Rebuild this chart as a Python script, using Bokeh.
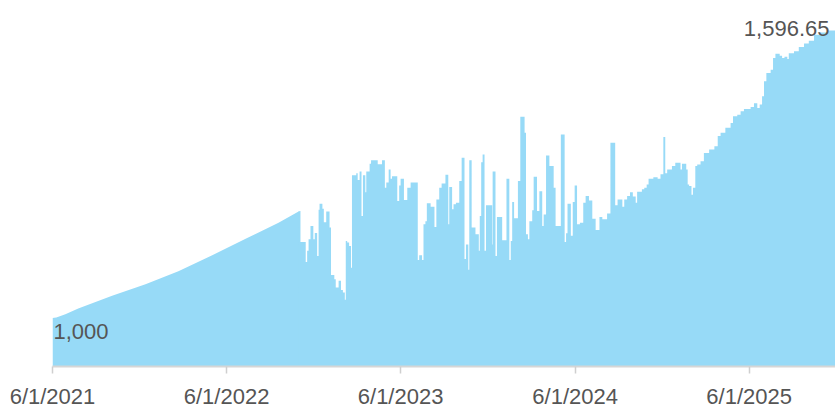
import pandas as pd
from bokeh.plotting import figure
from bokeh.models import Range1d, FixedTicker, CustomJSTickFormatter
from bokeh.core.properties import value
from bokeh.embed import file_html
from bokeh.resources import INLINE

# ---- data ----
smooth_dates = ["2021-06-01", "2021-06-09", "2021-06-28", "2021-07-25", "2021-10-04",
                "2021-12-13", "2022-02-20", "2022-05-02", "2022-07-11", "2022-09-18",
                "2022-10-30", "2022-11-01"]
smooth_values = [1000, 1001, 1008, 1020, 1046, 1070, 1097, 1130, 1164, 1197, 1220, 1221]

step_dates = [
    "2022-10-30", "2022-11-01", "2022-11-03", "2022-11-14", "2022-11-17", "2022-11-20", "2022-11-24",
    "2022-11-30", "2022-12-03", "2022-12-08", "2022-12-11", "2022-12-13", "2022-12-19",
    "2022-12-22", "2022-12-27", "2023-01-03", "2023-01-06", "2023-01-13", "2023-01-16",
    "2023-01-22", "2023-01-27", "2023-01-31", "2023-02-04", "2023-02-06", "2023-02-09",
    "2023-02-13", "2023-02-17", "2023-02-19", "2023-02-28", "2023-03-03", "2023-03-07",
    "2023-03-11", "2023-03-14", "2023-03-19", "2023-03-21", "2023-03-28", "2023-03-31",
    "2023-04-14", "2023-04-23", "2023-04-29", "2023-05-02", "2023-05-07", "2023-05-11",
    "2023-05-14", "2023-05-25", "2023-05-29", "2023-06-01", "2023-06-08", "2023-06-15",
    "2023-06-22", "2023-07-07", "2023-07-10", "2023-07-16", "2023-07-19", "2023-07-23",
    "2023-07-26", "2023-08-03", "2023-08-11", "2023-08-15", "2023-08-21", "2023-08-26",
    "2023-09-03", "2023-09-09", "2023-09-11", "2023-09-17", "2023-09-20", "2023-09-25",
    "2023-10-02", "2023-10-07", "2023-10-13", "2023-10-16", "2023-10-21", "2023-10-23",
    "2023-10-28", "2023-11-05", "2023-11-12", "2023-11-14", "2023-11-17", "2023-11-20",
    "2023-11-24", "2023-11-27", "2023-12-10", "2023-12-11", "2023-12-17", "2023-12-20",
    "2023-12-31", "2024-01-09", "2024-01-15", "2024-01-18", "2024-01-21", "2024-01-25",
    "2024-02-02", "2024-02-07", "2024-02-16", "2024-02-19", "2024-02-23", "2024-02-26",
    "2024-03-03", "2024-03-06", "2024-03-13", "2024-03-18", "2024-03-24", "2024-03-27",
    "2024-04-01", "2024-04-08", "2024-04-17", "2024-04-21", "2024-05-02", "2024-05-10",
    "2024-05-13", "2024-05-16", "2024-05-23", "2024-05-27", "2024-05-31", "2024-06-05",
    "2024-06-11", "2024-06-18", "2024-06-23", "2024-06-30", "2024-07-07", "2024-07-14",
    "2024-07-22", "2024-07-28", "2024-08-07", "2024-08-14", "2024-08-24", "2024-08-29",
    "2024-09-08", "2024-09-12", "2024-09-18", "2024-09-24", "2024-09-30", "2024-10-06",
    "2024-10-09", "2024-10-19", "2024-10-24", "2024-10-29", "2024-11-02", "2024-11-12",
    "2024-11-21", "2024-11-27", "2024-12-03", "2024-12-07", "2024-12-11", "2024-12-21",
    "2024-12-28", "2025-01-08", "2025-01-11", "2025-01-20", "2025-01-23", "2025-01-26",
    "2025-01-31", "2025-02-03", "2025-02-08", "2025-02-12", "2025-02-19", "2025-02-26",
    "2025-03-09", "2025-03-20", "2025-03-27", "2025-04-02", "2025-04-12", "2025-04-23",
    "2025-04-28", "2025-05-07", "2025-05-14", "2025-05-21", "2025-06-04", "2025-06-11",
    "2025-06-18", "2025-06-23", "2025-06-28", "2025-07-02", "2025-07-07", "2025-07-16",
    "2025-07-21", "2025-07-26", "2025-08-04", "2025-08-09", "2025-08-14", "2025-08-20",
    "2025-08-23", "2025-09-03", "2025-09-13", "2025-09-24", "2025-10-04", "2025-10-15",
    "2025-10-27", "2025-11-12", "2025-11-29"]
step_values = [
    1220, 1221, 1157, 1116, 1139, 1163, 1190,
    1163, 1176, 1128, 1224, 1236, 1226,
    1198, 1220, 1187, 1089, 1080, 1063,
    1077, 1058, 1053, 1038, 1159, 1156,
    1149, 1104, 1295, 1299, 1285, 1303,
    1211, 1295, 1260, 1303, 1319, 1326,
    1318, 1326, 1269, 1280, 1307, 1288,
    1293, 1242, 1274, 1288, 1244, 1269,
    1280, 1120, 1130, 1120, 1194, 1200,
    1237, 1230, 1188, 1245, 1269, 1278,
    1296, 1194, 1271, 1225, 1235, 1238,
    1283, 1331, 1122, 1152, 1100, 1326,
    1187, 1173, 1139, 1211, 1322, 1338,
    1139, 1233, 1152, 1303, 1128, 1209,
    1161, 1288, 1120, 1159, 1240, 1206,
    1283, 1416, 1383, 1173, 1163, 1200,
    1223, 1292, 1221, 1262, 1190, 1214,
    1336, 1314, 1269, 1190, 1379, 1157,
    1175, 1236, 1170, 1240, 1274, 1194,
    1197, 1238, 1252, 1243, 1205, 1182,
    1209, 1204, 1216, 1362, 1233, 1245,
    1230, 1245, 1252, 1260, 1251, 1238,
    1261, 1266, 1269, 1276, 1288, 1291,
    1288, 1297, 1374, 1299, 1307, 1314,
    1321, 1307, 1319, 1307, 1276, 1273,
    1255, 1269, 1314, 1317, 1324, 1341,
    1348, 1355, 1376, 1383, 1393, 1403,
    1417, 1420, 1427, 1432, 1436, 1444,
    1434, 1441, 1458, 1489, 1506, 1513,
    1537, 1546, 1542, 1537, 1540, 1535,
    1547, 1551, 1560, 1567, 1573, 1585,
    1590, 1594, 1596.65]

tick_dates = ["2021-06-01", "2022-06-01", "2023-06-01", "2024-06-01", "2025-06-01"]
start_label = "1,000"
end_label = "1,596.65"
y_start, y_end = 900, 1656

# ---- styling ----
AREA = "#97daf7"
TEXT = "#555555"
FONT = "Liberation Sans"

sd = pd.to_datetime(smooth_dates)
td = pd.to_datetime(step_dates)

p = figure(width=835, height=411, x_axis_type="datetime", y_axis_location=None,
           output_backend="svg", toolbar_location=None,
           min_border_left=52, min_border_right=0, min_border_top=0, min_border_bottom=0,
           x_range=Range1d(sd[0], td[-1]), y_range=Range1d(y_start, y_end))

p.varea(x=sd, y1=0, y2=smooth_values, fill_color=AREA)
p.varea_step(x=td, y1=0, y2=step_values, step_mode="after", fill_color=AREA)

p.text(x=[sd[0]], y=[smooth_values[0]], text=[start_label], text_font=value(FONT),
       text_font_size="22px", text_color=TEXT, text_align="left", text_baseline="top",
       x_offset=1, y_offset=6)
p.text(x=[td[-1]], y=[step_values[-1]], text=[end_label], text_font=value(FONT),
       text_font_size="22px", text_color=TEXT, text_align="right",
       text_baseline="alphabetic", x_offset=-6, y_offset=-1)

ax = p.xaxis[0]
ax.ticker = FixedTicker(ticks=[pd.Timestamp(d).timestamp() * 1000 for d in tick_dates])
ax.formatter = CustomJSTickFormatter(code="""
const d = new Date(tick);
return (d.getUTCMonth() + 1) + '/' + d.getUTCDate() + '/' + d.getUTCFullYear();
""")
ax.major_label_text_font = FONT
ax.major_label_text_font_size = "22px"
ax.major_label_text_color = TEXT
ax.major_label_standoff = 10
ax.axis_line_color = "#d6d6d6"
ax.axis_line_width = 2
ax.major_tick_line_color = "#cfcfcf"
ax.major_tick_line_width = 1.5
ax.major_tick_out = 7
ax.major_tick_in = 0
ax.minor_tick_line_color = None

p.grid.visible = False
p.outline_line_color = None
p.background_fill_color = "white"
p.border_fill_color = "white"

open("out.html", "w").write(file_html(p, INLINE))
